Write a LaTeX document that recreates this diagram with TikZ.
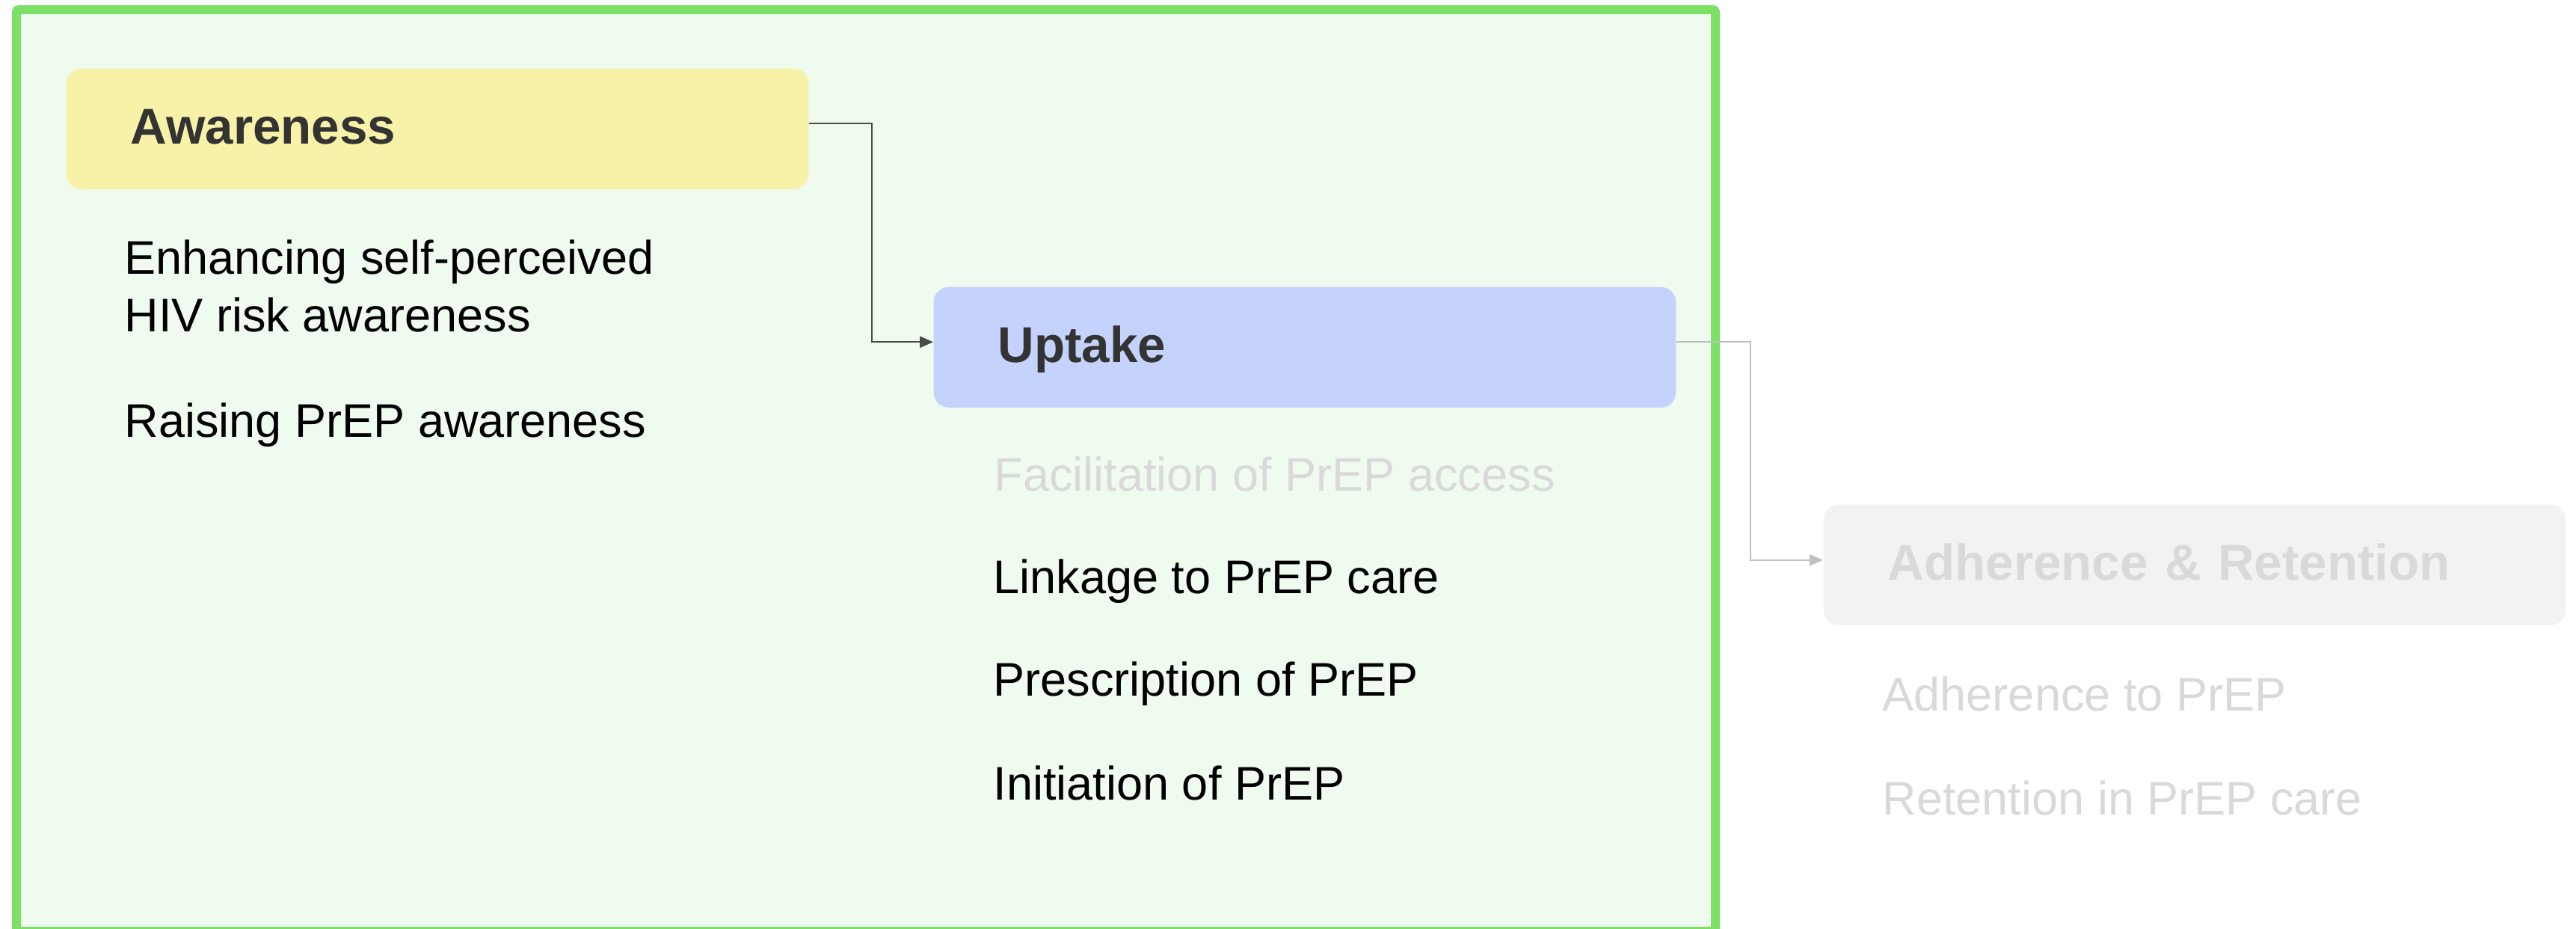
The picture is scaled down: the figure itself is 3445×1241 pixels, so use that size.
\documentclass[tikz,border=0pt]{standalone}
\usepackage{fontspec}
\setmainfont{Liberation Sans}
\usetikzlibrary{arrows.meta}
\definecolor{frameg}{HTML}{7BE065}
\definecolor{bgg}{HTML}{F0FBF0}
\definecolor{yel}{HTML}{F8F1A8}
\definecolor{blu}{HTML}{C5D2FB}
\definecolor{gbox}{HTML}{F2F2F2}
\definecolor{gtxt}{HTML}{D9D9D9}
\definecolor{ttl}{HTML}{333333}
\definecolor{darr}{HTML}{4A4A4A}
\definecolor{garr}{HTML}{BFBFBF}
\begin{document}
\begin{tikzpicture}[x=0.01cm,y=-0.01cm,
  stage/.style={rounded corners=0.2cm, minimum width=9.92cm, minimum height=1.61cm,
    anchor=north west, inner xsep=0.86cm, inner ysep=0pt, text width=8.2cm, align=left,
    text height=0.47cm, text depth=0.06cm, text=ttl,
    font=\fontsize{19.15pt}{22pt}\selectfont\bfseries},
  item/.style={font=\fontsize{17.93pt}{21.63pt}\selectfont, anchor=base west,
    inner sep=0pt, align=left, text=black},
  conn/.style={line width=0.7pt, -{Triangle[length=5.1pt,width=4.3pt]}}]
\useasboundingbox (0,0) rectangle (3445,1241);
\fill[white] (0,0) rectangle (3445,1241);
% frame
\draw[frameg, line width=3.4pt, fill=bgg, rounded corners=0.03cm] (22,13) rectangle (2294,1245);
% stage boxes
\node[stage, fill=yel] (aw) at (88,91) {Awareness};
\node[stage, fill=blu] (up) at (1248,383) {Uptake};
\node[stage, fill=gbox, text=gtxt] (ar) at (2438,674) {Adherence \& Retention};
% items
\node[item] (a1) at (166,443) {Enhancing self-perceived\\HIV risk awareness};
\node[item] (a2) at (166,584) {Raising PrEP awareness};
\node[item, text=gtxt] (u1) at (1329,656) {Facilitation of PrEP access};
\node[item] (u2) at (1328,793) {Linkage to PrEP care};
\node[item] (u3) at (1328,930) {Prescription of PrEP};
\node[item] (u4) at (1328,1069) {Initiation of PrEP};
\node[item, text=gtxt] (r1) at (2517,950) {Adherence to PrEP};
\node[item, text=gtxt] (r2) at (2517,1089) {Retention in PrEP care};
% connectors
\draw[conn, darr] ([yshift=0.07cm]aw.east) -- ++(84,0) |- ([yshift=0.07cm]up.west);
\draw[conn, garr] ([yshift=0.07cm]up.east) -- ++(99,0) |- ([yshift=0.065cm]ar.west);
\end{tikzpicture}
\end{document}
